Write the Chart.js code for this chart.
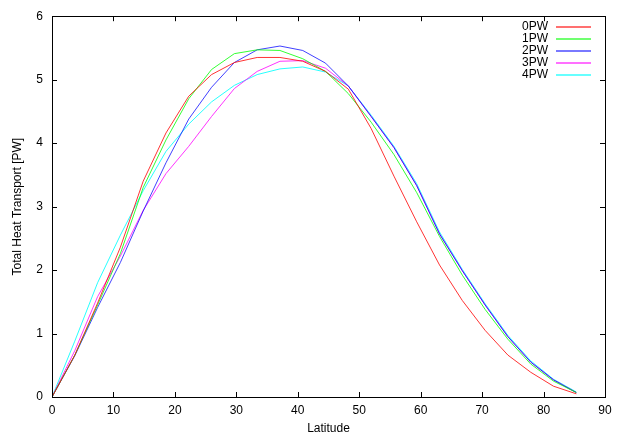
<!DOCTYPE html>
<html>
<head>
<meta charset="utf-8">
<script src="https://cdn.jsdelivr.net/npm/chart.js@4/dist/chart.umd.min.js"></script>
<style>
  html, body { margin: 0; padding: 0; background: #fff; }
  #wrap { width: 623px; height: 436px; }
</style>
</head>
<body>
<div id="wrap"><canvas id="heatChart" width="623" height="436"></canvas></div>
<script>
// 緯度（x）
const latitudes = [0, 3.71, 7.42, 11.13, 14.84, 18.55, 22.26, 25.97, 29.68, 33.39, 37.1, 40.81,
    44.52, 48.23, 51.94, 55.65, 59.36, 63.07, 66.78, 70.49, 74.2, 77.91, 81.62, 85.33];

// 各シリーズの値 [PW]
const pw0 = [0, 0.66, 1.48, 2.36, 3.40, 4.16, 4.74, 5.08, 5.27, 5.35, 5.35, 5.29,
    5.13, 4.85, 4.23, 3.48, 2.76, 2.08, 1.52, 1.05, 0.66, 0.39, 0.17, 0.05];
const pw1 = [0, 0.66, 1.45, 2.26, 3.30, 4.05, 4.70, 5.16, 5.41, 5.47, 5.46, 5.33,
    5.13, 4.78, 4.33, 3.82, 3.22, 2.53, 1.92, 1.38, 0.91, 0.52, 0.25, 0.07];
const pw2 = [0, 0.65, 1.41, 2.12, 2.93, 3.69, 4.38, 4.88, 5.27, 5.47, 5.53, 5.46,
    5.26, 4.90, 4.42, 3.93, 3.33, 2.57, 1.99, 1.45, 0.95, 0.55, 0.27, 0.07];
const pw3 = [0, 0.73, 1.58, 2.22, 2.94, 3.52, 3.95, 4.42, 4.86, 5.13, 5.29, 5.30,
    5.18, 4.90, 4.42, 3.93, 3.33, 2.57, 1.99, 1.45, 0.95, 0.55, 0.27, 0.07];
const pw4 = [0, 0.88, 1.80, 2.55, 3.25, 3.87, 4.30, 4.65, 4.91, 5.08, 5.17, 5.20,
    5.12, 4.90, 4.44, 3.95, 3.36, 2.60, 2.01, 1.47, 0.97, 0.57, 0.28, 0.08];

const seriesNames = ["0PW", "1PW", "2PW", "3PW", "4PW"];
const seriesValues = [pw0, pw1, pw2, pw3, pw4];
// gnuplotの標準色（線は少し淡く見えるので透明度をつける）
const seriesColors = ["rgba(255,0,0,0.8)", "rgba(0,255,0,0.8)", "rgba(0,0,255,0.75)",
    "rgba(255,0,255,0.8)", "rgba(0,255,255,0.85)"];

const FONT = "Liberation Sans, Arial, Helvetica, sans-serif";

// x,y の組にする
function toPoints(values) {
    return latitudes.map((lat, i) => ({ x: lat, y: values[i] }));
}

// gnuplot風の枠と内向きの目盛り、凡例
const gnuplotFrame = {
    id: "gnuplotFrame",
    afterDatasetsDraw(chart) {
        const ctx = chart.ctx;
        const area = chart.chartArea;
        const xs = chart.scales.x;
        const ys = chart.scales.y;
        const tickLen = 5;

        ctx.save();
        ctx.strokeStyle = "#000";
        ctx.lineWidth = 1;
        ctx.beginPath();
        xs.ticks.forEach(t => {
            const px = Math.round(xs.getPixelForValue(t.value)) + 0.5;
            ctx.moveTo(px, area.bottom); ctx.lineTo(px, area.bottom - tickLen);
            ctx.moveTo(px, area.top); ctx.lineTo(px, area.top + tickLen);
        });
        ys.ticks.forEach(t => {
            const py = Math.round(ys.getPixelForValue(t.value)) + 0.5;
            ctx.moveTo(area.left, py); ctx.lineTo(area.left + tickLen, py);
            ctx.moveTo(area.right, py); ctx.lineTo(area.right - tickLen, py);
        });
        ctx.stroke();
        ctx.strokeRect(Math.round(area.left) + 0.5, Math.round(area.top) + 0.5,
            Math.round(area.right - area.left), Math.round(area.bottom - area.top));

        // 凡例（右上、文字は右寄せ＋線サンプル）
        ctx.font = "12px " + FONT;
        ctx.textAlign = "right";
        ctx.textBaseline = "middle";
        seriesNames.forEach((name, i) => {
            const y = Math.round(area.top + 11 + i * 12);
            ctx.globalAlpha = 1;
            ctx.fillStyle = "#000";
            ctx.fillText(name, area.right - 57, y);
            // 線サンプル（元画像のように少し淡く、2px幅）
            ctx.globalAlpha = 0.7;
            ctx.fillStyle = seriesColors[i];
            ctx.fillRect(Math.round(area.right - 49), y - 1, 35, 2);
        });
        ctx.restore();
    }
};

const chartCanvas = document.getElementById("heatChart");
new Chart(chartCanvas, {
    type: "scatter",
    data: {
        datasets: seriesNames.map((name, i) => ({
            label: name,
            data: toPoints(seriesValues[i]),
            showLine: true,
            borderColor: seriesColors[i],
            backgroundColor: seriesColors[i],
            borderWidth: 1,
            pointRadius: 0,
            tension: 0
        }))
    },
    options: {
        responsive: false,
        animation: false,
        devicePixelRatio: 1,
        layout: { padding: { top: 15, right: 18, left: 0, bottom: 0 } },
        plugins: {
            legend: { display: false },
            tooltip: { enabled: false }
        },
        scales: {
            x: {
                type: "linear",
                min: 0,
                max: 90,
                grid: { display: false, drawTicks: false },
                border: { display: false },
                ticks: { stepSize: 10, padding: 6, color: "#000", font: { family: FONT, size: 12 } },
                title: { display: true, text: "Latitude", color: "#000", padding: { top: 5, bottom: 0 }, font: { family: FONT, size: 12 } },
                afterFit: (scale) => { scale.height = 39; }
            },
            y: {
                min: 0,
                max: 6,
                grid: { display: false, drawTicks: false },
                border: { display: false },
                ticks: { stepSize: 1, padding: 9, color: "#000", font: { family: FONT, size: 12 } },
                title: { display: true, text: "Total Heat Transport [PW]", color: "#000", padding: { top: 10, bottom: 0 }, font: { family: FONT, size: 12 } },
                afterFit: (scale) => { scale.width = 52; }
            }
        }
    },
    plugins: [gnuplotFrame]
});
</script>
</body>
</html>
